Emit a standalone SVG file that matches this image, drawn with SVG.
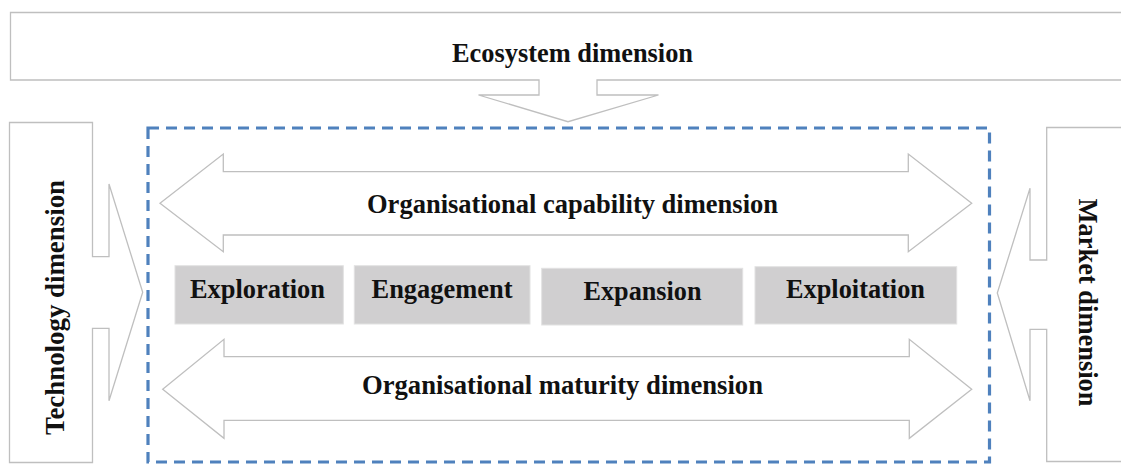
<svg xmlns="http://www.w3.org/2000/svg" width="1121" height="464" viewBox="0 0 1121 464">
<style>
.outline{fill:#ffffff;stroke:#bfbfbf;stroke-width:1.3;stroke-linejoin:miter}
.phase{fill:#d0cfd0;stroke:#e2e2e2;stroke-width:1}
.lbl{font-family:"Liberation Serif","Times New Roman",serif;font-weight:bold;font-size:28px;fill:#111111;text-anchor:middle}
.frame{fill:none;stroke:#4f81bd;stroke-width:3.2;stroke-dasharray:11 7}
</style>
<rect width="1121" height="464" fill="#ffffff"/>

<g id="ecosystem">
  <path class="outline" d="M10.5,12.5 H1130 V80 H597 V95 H658.5 L568,121.7 L478.5,95 H539 V80 H10.5 Z"/>
  <text class="lbl" x="572.5" y="62" textLength="241" lengthAdjust="spacingAndGlyphs">Ecosystem dimension</text>
</g>

<g id="technology">
  <path class="outline" d="M9.5,122.5 H92.5 V256.7 H109 V184 L142.7,292.3 L109,400.7 V328.3 H92.5 V462.5 H9.5 Z"/>
  <text class="lbl" transform="translate(63.5,307.5) rotate(-90)" x="0" y="0" textLength="255" lengthAdjust="spacingAndGlyphs">Technology dimension</text>
</g>

<g id="market">
  <path class="outline" d="M1130,127.5 H1046.7 V260 H1030 V188.3 L997.3,293 L1030,400.7 V329.3 H1046.7 V461.5 H1130"/>
  <text class="lbl" transform="translate(1078.5,302.5) rotate(90)" x="0" y="0" textLength="208" lengthAdjust="spacingAndGlyphs">Market dimension</text>
</g>

<g id="organisation-frame">
  <rect class="frame" x="148" y="128" width="841.5" height="334"/>
</g>

<g id="capability">
  <path class="outline" d="M160,203.3 L223.3,154 V171.7 H908.3 V154 L971.7,203.3 L908.3,251.7 V235 H223.3 V251.7 Z"/>
  <text class="lbl" x="572.5" y="213.3" textLength="411" lengthAdjust="spacingAndGlyphs">Organisational capability dimension</text>
</g>

<g id="maturity">
  <path class="outline" d="M162.7,389.3 L224,339.3 V356.7 H909.3 V339.3 L971.7,389.3 L909.3,438.3 V420.3 H224 V438.3 Z"/>
  <text class="lbl" x="562.5" y="394.3" textLength="401" lengthAdjust="spacingAndGlyphs">Organisational maturity dimension</text>
</g>

<g id="exploration">
  <rect class="phase" x="175" y="265.7" width="168.3" height="58.3"/>
  <text class="lbl" x="257.5" y="298.3" textLength="135" lengthAdjust="spacingAndGlyphs">Exploration</text>
</g>
<g id="engagement">
  <rect class="phase" x="354.3" y="265.7" width="175.7" height="58.3"/>
  <text class="lbl" x="442" y="298.3" textLength="141" lengthAdjust="spacingAndGlyphs">Engagement</text>
</g>
<g id="expansion">
  <rect class="phase" x="541.7" y="268.3" width="201" height="56.7"/>
  <text class="lbl" x="642.5" y="300" textLength="118" lengthAdjust="spacingAndGlyphs">Expansion</text>
</g>
<g id="exploitation">
  <rect class="phase" x="755" y="266.7" width="201.7" height="57.3"/>
  <text class="lbl" x="855.5" y="298.3" textLength="139" lengthAdjust="spacingAndGlyphs">Exploitation</text>
</g>

<g id="connectors"></g>
</svg>
